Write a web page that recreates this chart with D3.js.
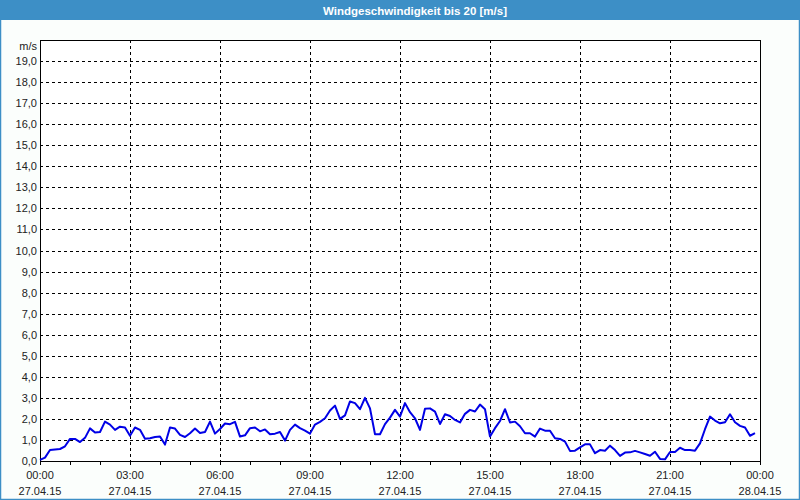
<!DOCTYPE html>
<html><head><meta charset="utf-8">
<script src="https://cdn.jsdelivr.net/npm/d3@7"></script>
<style>
html,body{margin:0;padding:0;background:#fbfefc;}
svg{display:block;}
text{font-family:"Liberation Sans",Arial,sans-serif;}
</style></head>
<body>
<svg id="c" width="800" height="500"></svg>
<script>
const title = "Windgeschwindigkeit bis 20 [m/s]";
const unitLabel = "m/s";
const startTime = "2015-04-27T00:00:00";
const endTime = "2015-04-28T00:00:00";
const intervalMinutes = 10;
const yTicks = [0,1,2,3,4,5,6,7,8,9,10,11,12,13,14,15,16,17,18,19];
const xTickHours = [0,3,6,9,12,15,18,21,24];
const windSpeed = [
0.05,0.16,0.52,0.55,0.57,0.70,1.05,1.05,0.90,1.10,
1.55,1.35,1.38,1.87,1.73,1.48,1.63,1.59,1.20,1.59,
1.48,1.06,1.08,1.14,1.16,0.78,1.59,1.54,1.24,1.14,
1.32,1.54,1.33,1.38,1.87,1.30,1.52,1.78,1.75,1.86,
1.16,1.22,1.56,1.59,1.41,1.50,1.27,1.30,1.38,0.97,
1.48,1.73,1.56,1.44,1.30,1.73,1.86,2.03,2.40,2.63,
2.00,2.17,2.83,2.75,2.46,3.00,2.50,1.27,1.27,1.75,
2.06,2.43,2.11,2.75,2.32,2.03,1.48,2.48,2.50,2.35,
1.76,2.22,2.14,1.95,1.83,2.24,2.43,2.35,2.68,2.46,
1.16,1.56,1.90,2.46,1.83,1.87,1.65,1.32,1.32,1.16,
1.54,1.44,1.44,1.08,1.05,0.92,0.48,0.49,0.65,0.79,
0.79,0.37,0.52,0.49,0.73,0.52,0.24,0.40,0.41,0.48,
0.41,0.33,0.25,0.44,0.10,0.08,0.43,0.43,0.63,0.52,
0.52,0.49,0.84,1.51,2.11,1.92,1.79,1.84,2.22,1.84,
1.67,1.59,1.20,1.32
];

const svg = d3.select("#c");
const W = 800, H = 500;
const m = {left:40, right:40, top:40, bottom:39};
const t0 = new Date(startTime), t1 = new Date(endTime);
const x = d3.scaleTime().domain([t0,t1]).range([m.left, W-m.right]);
const y = d3.scaleLinear().domain([0,20]).range([H-m.bottom, m.top]);
const data = windSpeed.map((v,i)=>({t:new Date(t0.getTime()+i*intervalMinutes*60000), v}));

// frame
svg.append("rect").attr("x",0.5).attr("y",0.5).attr("width",W-1).attr("height",H-1)
  .attr("fill","#fbfefc").attr("stroke","#3d8fc6").attr("stroke-width",1.5);
svg.append("rect").attr("x",0).attr("y",0).attr("width",W).attr("height",20).attr("fill","#3d8fc6");
svg.append("text").attr("x",415).attr("y",14.5).attr("text-anchor","middle")
  .attr("fill","#fff").attr("font-weight","bold").attr("font-size","11.5px").text(title);

// plot bg
svg.append("rect").attr("x",m.left).attr("y",m.top).attr("width",W-m.left-m.right)
  .attr("height",H-m.top-m.bottom).attr("fill","#fff");

const hourTime = h => new Date(t0.getTime()+h*3600000);
// grid
const g = svg.append("g").attr("stroke","#000").attr("stroke-width",1).attr("stroke-dasharray","3,3").attr("shape-rendering","crispEdges");
yTicks.filter(v=>v>0).forEach(v=>{
  g.append("line").attr("x1",m.left).attr("x2",W-m.right).attr("y1",Math.round(y(v))+0.5).attr("y2",Math.round(y(v))+0.5);
});
xTickHours.filter(h=>h>0&&h<24).forEach(h=>{
  const xx = Math.round(x(hourTime(h)))+0.5;
  g.append("line").attr("x1",xx).attr("x2",xx).attr("y1",m.top).attr("y2",H-m.bottom);
});

// x axis hourly ticks
const xAxis = d3.axisBottom(x).ticks(d3.timeHour.every(1)).tickSize(4).tickFormat("");
const xa = svg.append("g").attr("transform",`translate(0,${H-m.bottom})`).call(xAxis);
xa.select(".domain").remove();
xa.selectAll("line").attr("stroke","#000").attr("shape-rendering","crispEdges");

// x labels
const fmtT = d3.timeFormat("%H:%M"), fmtD = d3.timeFormat("%d.%m.%y");
xTickHours.forEach(h=>{
  const tt = hourTime(h);
  svg.append("text").attr("x",x(tt)).attr("y",479).attr("text-anchor","middle").attr("font-size","11px").attr("fill","#222").text(fmtT(tt));
  svg.append("text").attr("x",x(tt)).attr("y",495).attr("text-anchor","middle").attr("font-size","11px").attr("fill","#222").text(fmtD(tt));
});

// y labels
const fmtY = v => d3.format(".1f")(v).replace(".",",");
yTicks.forEach(v=>{
  svg.append("text").attr("x",37).attr("y",y(v)+4).attr("text-anchor","end").attr("font-size","11px").attr("fill","#222").text(fmtY(v));
});
svg.append("text").attr("x",37).attr("y",50).attr("text-anchor","end").attr("font-size","11px").attr("fill","#222").text(unitLabel);

// border
svg.append("rect").attr("x",m.left+0.5).attr("y",m.top+0.5).attr("width",W-m.left-m.right).attr("height",H-m.top-m.bottom)
  .attr("fill","none").attr("stroke","#000").attr("stroke-width",1).attr("shape-rendering","crispEdges");

// line
const line = d3.line().x(d=>x(d.t)).y(d=>y(d.v));
svg.append("path").datum(data).attr("d",line).attr("fill","none").attr("stroke","#0000e6").attr("stroke-width",2).attr("stroke-linejoin","round");
</script>
</body></html>
